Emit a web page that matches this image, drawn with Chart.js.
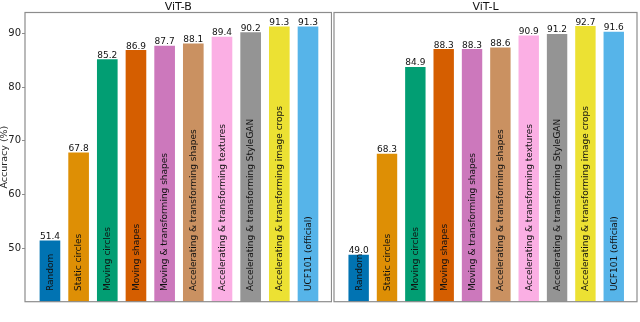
<!DOCTYPE html>
<html>
<head>
<meta charset="utf-8">
<script src="https://cdn.jsdelivr.net/npm/chart.js@4/dist/chart.umd.min.js"></script>
<style>
  html, body { margin: 0; padding: 0; background: #fff; width: 640px; height: 322px; overflow: hidden; }
  #c1 { position: absolute; left: 0; top: 0; }
  #c2 { position: absolute; left: 333px; top: 0; }
</style>
</head>
<body>
<canvas id="c1" width="332" height="322"></canvas>
<canvas id="c2" width="307" height="322"></canvas>
<script>
const categories = [
  "Random",
  "Static circles",
  "Moving circles",
  "Moving shapes",
  "Moving & transforming shapes",
  "Accelerating & transforming shapes",
  "Accelerating & transforming textures",
  "Accelerating & transforming StyleGAN",
  "Accelerating & transforming image crops",
  "UCF101 (official)"
];
const vitB = [51.4, 67.8, 85.2, 86.9, 87.7, 88.1, 89.4, 90.2, 91.3, 91.3];
const vitL = [49.0, 68.3, 84.9, 88.3, 88.3, 88.6, 90.9, 91.2, 92.7, 91.6];
const colors = ["#0173b2", "#de8f05", "#029e73", "#d55e00", "#cc78bc",
                "#ca9161", "#fbafe4", "#949494", "#ece133", "#56b4e9"];
const yTicks = [50, 60, 70, 80, 90];
const panelTitles = ["ViT-B", "ViT-L"];

const FONT = "'DejaVu Sans', sans-serif";

const framePlugin = {
  id: 'frame',
  afterDatasetsDraw(chart) {
    const a = chart.chartArea, ctx = chart.ctx;
    ctx.save();
    ctx.strokeStyle = '#8c8c8c';
    ctx.lineWidth = 1.2;
    ctx.strokeRect(a.left, a.top, a.right - a.left, a.bottom - a.top);
    ctx.restore();
  }
};

const labelPlugin = {
  id: 'barLabels',
  afterDatasetsDraw(chart, args, opts) {
    const ctx = chart.ctx, a = chart.chartArea;
    const meta = chart.getDatasetMeta(0);
    const ds = chart.data.datasets[0];
    ctx.save();
    ctx.fillStyle = '#111';
    ctx.font = "9px " + FONT;
    meta.data.forEach((bar, i) => {
      const v = ds.data[i].y;
      ctx.textAlign = 'center';
      ctx.textBaseline = 'alphabetic';
      ctx.fillText(v.toFixed(1), bar.x, bar.y - 1.5);
      ctx.save();
      ctx.translate(bar.x + 0.5, a.bottom - 10.7);
      ctx.rotate(-Math.PI / 2);
      ctx.textAlign = 'left';
      ctx.textBaseline = 'middle';
      ctx.fillText(categories[i], 0, 0);
      ctx.restore();
    });
    // panel title
    ctx.font = "11px " + FONT;
    ctx.textAlign = 'center';
    ctx.textBaseline = 'middle';
    ctx.fillText(opts.title, (a.left + a.right) / 2, 6.8);
    ctx.restore();
  }
};

function makeChart(id, values, title, yMax, showY, padding) {
  return new Chart(document.getElementById(id), {
    type: 'bar',
    data: {
      datasets: [{
        data: values.map((v, i) => ({ x: i, y: v })),
        backgroundColor: colors,
        borderWidth: 0,
        categoryPercentage: 1,
        barPercentage: 0.72
      }]
    },
    options: {
      responsive: false,
      devicePixelRatio: 1,
      animation: false,
      layout: { padding: padding },
      plugins: {
        legend: { display: false },
        tooltip: { enabled: false },
        title: { display: false },
        barLabels: { title: title }
      },
      scales: {
        x: {
          type: 'linear',
          offset: false,
          min: -0.87,
          max: 9.82,
          display: false
        },
        y: {
          type: 'linear',
          min: 40,
          max: yMax,
          display: showY,
          afterBuildTicks: s => { s.ticks = yTicks.map(v => ({ value: v })); },
          afterFit: s => { s.width = showY ? 25 : 0; },
          border: { display: false },
          grid: { drawOnChartArea: false, drawTicks: true, tickLength: 3, color: '#8c8c8c', tickWidth: 1 },
          ticks: { font: { family: FONT, size: 10 }, color: '#222', padding: 1 },
          title: {
            display: showY,
            text: 'Accuracy (%)',
            font: { family: FONT, size: 9.5, lineHeight: 1 },
            color: '#222',
            padding: 0
          }
        }
      }
    },
    plugins: [framePlugin, labelPlugin]
  });
}

makeChart('c1', vitB, panelTitles[0], 93.9, true, { top: 12.5, bottom: 20.3, left: 0, right: 0.5 });
makeChart('c2', vitL, panelTitles[1], 95.3, false, { top: 12.5, bottom: 20.3, left: 1, right: 3 });
</script>
</body>
</html>
